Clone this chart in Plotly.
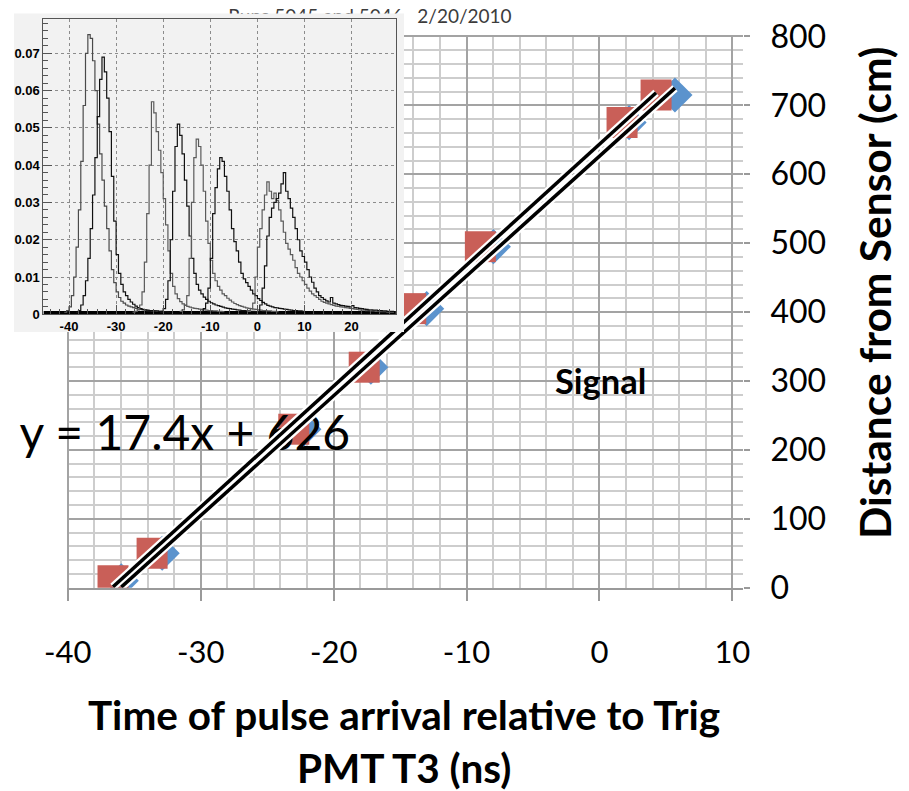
import plotly.graph_objects as go
import numpy as np

# ---------------- main chart data ----------------
DIST_CM = [10, 50, 230, 320, 405, 495, 675, 715]
TIME_RED = [-36.6, -33.66, -23.0, -17.7, -14.2, -8.96, 1.7, 4.26]
TIME_BLUE = [-35.98, -32.9, -22.24, -17.2, -13.0, -7.98, 2.23, 5.68]
X_TICKS = [-40, -30, -20, -10, 0, 10]
Y_TICKS = [0, 100, 200, 300, 400, 500, 600, 700, 800]
EQUATION = "y = 17.4x + 626"
EQ_POS = (-31.2, 217)
TITLE = "Runs 5045 and 5046   2/20/2010"

# ---------------- inset histogram data (per mille, 0.5 ns bins) ----------------
INSET_X_TICKS = [-40, -30, -20, -10, 0, 10, 20]
INSET_Y_TICKS = [0, 0.01, 0.02, 0.03, 0.04, 0.05, 0.06, 0.07]
INSET_Y_LABELS = ["0", "0.01", "0.02", "0.03", "0.04", "0.05", "0.06", "0.07"]
HIST_BIN = 0.5
HIST_STARTS = [-41.0, -38.5, -26.5, -20.5, -16.5, -12.0, -2.0, 0.0]
H1 = [0.5, 1, 2, 5, 10, 18, 28, 41, 56, 70, 75, 74, 68, 60, 51, 43, 36, 29, 23, 17, 12, 8.5, 6, 4.5,
      3.5, 3, 2.5, 2.2, 2, 1.8, 1.6, 1.4, 1.3, 1.2, 1.1, 1, 1, 0.9, 0.9, 0.8, 0.8, 0.7, 0.7]
H2 = [0.5, 1, 2.5, 5, 9, 15, 23, 32, 42, 53, 63, 69, 65, 58, 49, 37, 25, 16, 11, 8, 6, 5, 4, 3.3,
      2.7, 2.2, 1.8, 1.5, 1.3, 1.2, 1.1, 1, 1, 0.9, 0.9, 0.8, 0.8, 0.7, 0.7, 0.6, 0.6]
H3 = [0.6, 0.8, 1.2, 2.5, 6, 14, 27, 40, 57, 54, 49, 44, 38, 31, 24, 17, 11, 7.5, 5.5, 4.2, 3.4,
      2.8, 2.4, 2.1, 1.9, 1.7, 1.6, 1.5, 1.4, 1.3, 1.2, 1.1, 1, 1, 0.9, 0.9, 0.8, 0.8, 0.7, 0.7]
H4 = [0.8, 1.5, 4, 9, 20, 33, 45, 51, 48, 43, 36, 29, 21, 15, 11, 8, 6.5, 5.5, 4.6, 4, 3.5, 3.1,
      2.8, 2.5, 2.3, 2.1, 1.9, 1.7, 1.6, 1.5, 1.4, 1.3, 1.2, 1.1, 1, 1, 0.9, 0.9, 0.8, 0.8, 0.7, 0.7]
H5 = [0.8, 1.2, 2.5, 5, 15, 30, 42, 47, 45, 40, 33, 25, 19, 14.5, 11, 9, 7.5, 6.5, 5.5, 5, 4.3,
      3.8, 3.3, 2.9, 2.6, 2.3, 2.1, 1.9, 1.7, 1.6, 1.5, 1.4, 1.3, 1.2, 1.1, 1, 1, 0.9, 0.9, 0.8,
      0.8, 0.7, 0.7]
H6 = [0.8, 1.5, 3, 7, 15, 27, 34, 39, 42, 41, 37, 33, 28, 23, 19.5, 17, 14, 11, 9.5, 8.5, 7.5,
      6.5, 5.5, 5, 4.2, 3.7, 3.2, 2.8, 2.4, 2.2, 2, 1.8, 1.7, 1.6, 1.5, 1.4, 1.3, 1.2, 1.1, 1, 1,
      0.9, 0.9, 0.8, 0.8]
H7 = [0.8, 1.5, 3, 10, 18, 23, 28, 32, 35.5, 33, 31, 32.5, 30.5, 28, 25, 22, 19, 17.5, 16, 14.5,
      12.5, 11, 10, 9, 8, 7, 6.2, 5.5, 5, 4.5, 4, 3.5, 3.2, 3, 2.8, 2.6, 2.4, 2.2, 2.1, 2, 1.9,
      1.8, 1.7, 1.6, 1.5, 1.4, 1.3, 1.2, 1.1, 1.1, 1, 1, 0.9, 0.9, 0.8, 0.8, 0.7, 0.7, 0.7, 0.6,
      0.6, 0.6, 0.6]
H8 = [0.8, 2.5, 7, 13, 21, 26, 28.5, 30, 31, 32.5, 35, 38, 33, 31, 28.5, 26, 23, 20, 17, 15.5, 14,
      12, 10, 8.6, 7, 6, 5, 4.5, 4, 3.6, 3.3, 4.5, 3, 2.8, 2.6, 2.4, 2.3, 2.2, 2.1, 2, 2.3, 1.8,
      1.7, 1.6, 1.5, 1.4, 1.3, 1.2, 1.2, 1.1, 1.1, 1, 1, 0.9, 0.9, 0.8, 0.8, 0.8, 0.8]
HISTS = [H1, H2, H3, H4, H5, H6, H7, H8]
HIST_COLORS = ["#4a4a4a", "#111111", "#5a5a5a", "#111111", "#5a5a5a", "#111111", "#5a5a5a", "#111111"]
NOISE_X = [-45.4, 29.4]
NOISE_Y = [0.5, 0.5]

# ---------------- geometry (screen pixels; page body has an 8 px margin) ----------------
OFF = 8
W, H = 909 - OFF, 791 - OFF
def px(x):
    return (x - OFF) / W
def py(y):
    return 1 - (y - OFF) / H

MAIN_FONT = "Lato, 'Open Sans', sans-serif"
INSET_FONT = "'Liberation Sans Narrow', 'Liberation Sans', Arial, sans-serif"
RED = "#c95f58"
BLUE = "#5b93cd"

fig = go.Figure()

# main markers
fig.add_trace(go.Scatter(x=TIME_BLUE, y=DIST_CM, mode="markers",
                         marker=dict(symbol="diamond", size=27, color=BLUE, line=dict(width=0)),
                         xaxis="x", yaxis="y", hoverinfo="skip"))
fig.add_trace(go.Scatter(x=TIME_RED, y=DIST_CM, mode="markers",
                         marker=dict(symbol="square", size=31, color=RED, line=dict(width=0)),
                         xaxis="x", yaxis="y", hoverinfo="skip"))

# equation text (under trend lines)
fig.add_trace(go.Scatter(x=[EQ_POS[0]], y=[EQ_POS[1]], mode="text", text=[EQUATION],
                         textposition="middle center", cliponaxis=False,
                         textfont=dict(family=MAIN_FONT, size=48, color="#000000"),
                         xaxis="x", yaxis="y", hoverinfo="skip"))

# linear trend lines (least squares fit of each series)
fits = []
for tx in (TIME_RED, TIME_BLUE):
    slope, icpt = np.polyfit(tx, DIST_CM, 1)
    xs = np.array([min(tx), max(tx)])
    fits.append((xs, slope * xs + icpt))
for xs, ys in fits:
    fig.add_trace(go.Scatter(x=xs, y=ys, mode="lines", line=dict(color="white", width=8),
                             xaxis="x", yaxis="y", hoverinfo="skip"))
for xs, ys in fits:
    fig.add_trace(go.Scatter(x=xs, y=ys, mode="lines", line=dict(color="black", width=3.5),
                             xaxis="x", yaxis="y", hoverinfo="skip"))

# title (partly hidden behind inset panel)
fig.add_trace(go.Scatter(x=[px(370)], y=[0.615], mode="text", text=[TITLE], cliponaxis=False,
                         textposition="middle center",
                         textfont=dict(family=MAIN_FONT, size=19, color="#3c3c3c"),
                         xaxis="x2", yaxis="y2", hoverinfo="skip"))

# inset panel (background only)
fig.add_trace(go.Scatter(x=[], y=[], xaxis="x3", yaxis="y3", hoverinfo="skip"))

# inset histograms
fig.add_trace(go.Scatter(x=NOISE_X, y=[v / 1000 for v in NOISE_Y], mode="lines",
                         line=dict(color="#000000", width=3), xaxis="x4", yaxis="y4",
                         hoverinfo="skip"))
for start, vals, col in zip(HIST_STARTS, HISTS, HIST_COLORS):
    xs = [start + HIST_BIN * i for i in range(len(vals))]
    fig.add_trace(go.Scatter(x=xs, y=[v / 1000 for v in vals], mode="lines",
                             line=dict(color=col, width=1.2, shape="hv"),
                             xaxis="x4", yaxis="y4", hoverinfo="skip"))

MAJOR_GRID = "#a3a3a3"
MINOR_GRID = "#cdcdcd"

fig.update_layout(
    width=W, height=H,
    margin=dict(l=0, r=0, t=0, b=0, autoexpand=False),
    paper_bgcolor="white",
    plot_bgcolor="#f2f2f2",
    showlegend=False,
    xaxis=dict(domain=[px(66.5), px(743)], range=[-40.1, 10.8], anchor="y", automargin=False,
               tickmode="array", tickvals=X_TICKS, ticktext=[str(v) for v in X_TICKS],
               showgrid=True, gridcolor=MAJOR_GRID, gridwidth=2,
               minor=dict(dtick=2, tick0=-40, showgrid=True, gridcolor=MINOR_GRID, gridwidth=2),
               showline=True, linecolor="#9a9a9a", linewidth=2,
               ticks="outside", ticklen=11, tickwidth=2, tickcolor="#9a9a9a",
               tickfont=dict(family=MAIN_FONT, size=31, color="#000000"),
               ticklabelstandoff=25, zeroline=False, fixedrange=True),
    yaxis=dict(domain=[py(587.7), py(35.1)], range=[0, 802], anchor="x", side="right",
               automargin=False,
               tickmode="array", tickvals=Y_TICKS, ticktext=[str(v) for v in Y_TICKS],
               showgrid=True, gridcolor=MAJOR_GRID, gridwidth=2,
               minor=dict(dtick=20, tick0=0, showgrid=True, gridcolor=MINOR_GRID, gridwidth=2),
               showline=False, ticks="outside", ticklen=6, tickwidth=2, tickcolor="#9a9a9a",
               tickfont=dict(family=MAIN_FONT, size=32, color="#000000"),
               ticklabelstandoff=14, zeroline=False, fixedrange=True),
    xaxis2=dict(domain=[0, 1], range=[0, 1], anchor="y2", visible=False, fixedrange=True,
                automargin=False),
    yaxis2=dict(domain=[py(34), 1], range=[0, 1], anchor="x2", visible=False, fixedrange=True,
                automargin=False),
    xaxis3=dict(domain=[px(14), px(404)], range=[0, 1], anchor="y3", visible=False,
                fixedrange=True, automargin=False),
    yaxis3=dict(domain=[py(332), py(13.5)], range=[0, 1], anchor="x3", visible=False,
                fixedrange=True, automargin=False),
    xaxis4=dict(domain=[px(43.3), px(396)], range=[-45.46, 29.43], anchor="y4", automargin=False,
                tickmode="array", tickvals=INSET_X_TICKS, ticktext=[str(v) for v in INSET_X_TICKS],
                showgrid=True, gridcolor="#8c8c8c", griddash="dot", gridwidth=1,
                minor=dict(dtick=2, tick0=-40, ticks="inside", ticklen=5, tickcolor="#555555"),
                showline=True, mirror=True, linecolor="#555555", linewidth=1,
                ticks="inside", ticklen=9, tickcolor="#555555",
                tickfont=dict(family=INSET_FONT, size=13, color="#000000", weight="bold"),
                zeroline=False, fixedrange=True),
    yaxis4=dict(domain=[py(314.3), py(19)], range=[0, 0.0792], anchor="x4", automargin=False,
                tickmode="array", tickvals=INSET_Y_TICKS, ticktext=INSET_Y_LABELS,
                showgrid=True, gridcolor="#8c8c8c", griddash="dot", gridwidth=1,
                minor=dict(dtick=0.002, tick0=0, ticks="inside", ticklen=5, tickcolor="#555555"),
                showline=True, mirror=True, linecolor="#555555", linewidth=1,
                ticks="inside", ticklen=9, tickcolor="#555555",
                tickfont=dict(family=INSET_FONT, size=13, color="#000000", weight="bold"),
                zeroline=False, fixedrange=True),
    shapes=[dict(type="rect", xref="paper", yref="paper", x0=0, x1=1, y0=0, y1=1,
                 fillcolor="white", line=dict(width=0), layer="below")],
    annotations=[
        dict(text="Signal", x=px(600), y=py(380), xref="paper", yref="paper", showarrow=False,
             xanchor="center", yanchor="middle",
             font=dict(family=MAIN_FONT, size=34.5, color="#000000", weight="bold")),
        dict(text="Distance from Sensor (cm)", x=px(875), y=py(293), xref="paper", yref="paper",
             showarrow=False, textangle=-90, xanchor="center", yanchor="middle",
             font=dict(family=MAIN_FONT, size=42.5, color="#000000", weight="bold")),
        dict(text="Time of pulse arrival relative to Trig<br>PMT T3 (ns)", x=px(404), y=py(741),
             xref="paper", yref="paper", showarrow=False, align="center",
             xanchor="center", yanchor="middle",
             font=dict(family=MAIN_FONT, size=40.5, color="#000000", weight="bold")),
    ],
)

fig.write_html("out.html")
